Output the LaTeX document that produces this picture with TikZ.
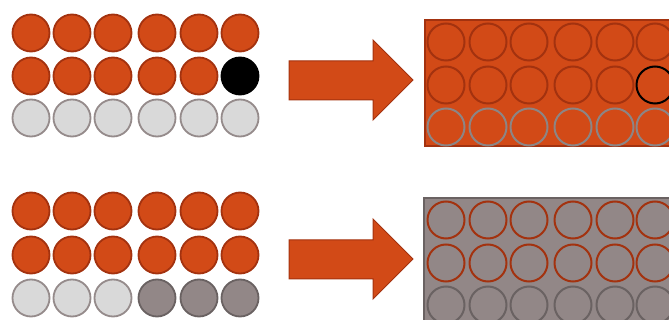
\documentclass[tikz,border=0pt]{standalone}
\begin{document}
\begin{tikzpicture}[x=1pt,y=-1pt,
  dot/.style={circle,minimum size=37pt,inner sep=0pt,line width=1.8pt},
  hot/.style={dot,fill=rust,draw=rustdark},
  pale/.style={dot,fill=palegray,draw=paleedge},
  dim/.style={dot,fill=dimgray,draw=dimedge},
  ink/.style={dot,fill=black,draw=black},
  ring/.style={dot,draw=#1,line width=2pt},
  bigarrow/.style={fill=rust,draw=rustdark,line width=1pt,line join=miter}]
\definecolor{rust}{HTML}{D24A17}
\definecolor{rustdark}{HTML}{A3320F}
\definecolor{palegray}{HTML}{D9D9D9}
\definecolor{paleedge}{HTML}{958B8B}
\definecolor{dimgray}{HTML}{928787}
\definecolor{dimedge}{HTML}{6A6262}
\definecolor{ringgray}{HTML}{8C8585}
\useasboundingbox (0,0) rectangle (669,320);
\clip (0,0) rectangle (669,320);

% column positions of the left grids and of the panels
\def\lcols{31/1,72/2,113/3,157/4,199/5,240/6}
\def\rcols{446/1,488/2,529/3,573/4,615/5,655/6}

% upper left grid
\foreach \x/\i in \lcols {
  \node[hot] (ua\i) at (\x,33) {};
  \node[pale] (uc\i) at (\x,118) {};
}
\foreach \x/\i in {31/1,72/2,113/3,157/4,199/5} \node[hot] (ub\i) at (\x,76) {};
\node[ink] (ub6) at (240,76) {};

% lower left grid
\foreach \x/\i in \lcols {
  \node[hot] (la\i) at (\x,211) {};
  \node[hot] (lb\i) at (\x,255) {};
}
\foreach \x/\i in {31/1,72/2,113/3} \node[pale] (lc\i) at (\x,298) {};
\foreach \x/\i in {157/4,199/5,240/6} \node[dim] (lc\i) at (\x,298) {};

% arrows
\draw[bigarrow] (289,61) -- (373,61) -- (373,40) -- (413,80) -- (373,120) -- (373,100) -- (289,100) -- cycle;
\draw[bigarrow] (289,240) -- (373,240) -- (373,219) -- (413,259) -- (373,299) -- (373,279) -- (289,279) -- cycle;

% upper right panel
\draw[fill=rust,draw=rustdark,line width=1.5pt] (425,20) rectangle (700,146);
\foreach \x/\i in \rcols {
  \node[ring=rustdark] (pa\i) at (\x,42) {};
  \node[ring=ringgray] (pc\i) at (\x,127) {};
}
\foreach \x/\i in {446/1,488/2,529/3,573/4,615/5} \node[ring=rustdark] (pb\i) at (\x,85) {};
\node[ring=black] (pb6) at (655,85) {};

% lower right panel
\draw[fill=dimgray,draw=dimedge,line width=1.5pt] (424,198) rectangle (700,340);
\foreach \x/\i in \rcols {
  \node[ring=rustdark] (qa\i) at (\x,220) {};
  \node[ring=rustdark] (qb\i) at (\x,263) {};
  \node[ring=dimedge] (qc\i) at (\x,305) {};
}
\end{tikzpicture}
\end{document}
